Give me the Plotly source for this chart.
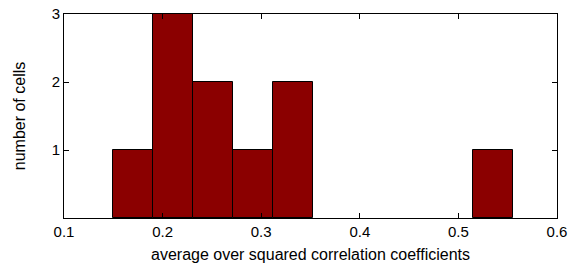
import plotly.graph_objects as go

bin_centers = [0.1697, 0.2103, 0.2509, 0.2915, 0.3321, 0.3727, 0.4133, 0.4539, 0.4945, 0.5351]
counts = [1, 3, 2, 1, 2, 0, 0, 0, 0, 1]
bin_width = 0.0406
x_ticks = [0.1, 0.2, 0.3, 0.4, 0.5, 0.6]
y_ticks = [1, 2, 3]

fig = go.Figure(go.Bar(
    x=bin_centers, y=counts, width=bin_width,
    marker=dict(color="#8B0000",
                line=dict(color="#000000", width=[1 if c > 0 else 0 for c in counts])),
))

tick_font = dict(family="Liberation Sans, Arial, sans-serif", size=15, color="#000000")
title_font = dict(family="Liberation Sans, Arial, sans-serif", size=16, color="#000000")
fig.update_layout(
    width=568, height=263,
    margin=dict(l=64, r=11, t=14, b=45),
    paper_bgcolor="white", plot_bgcolor="white",
    font=tick_font, showlegend=False, bargap=0,
    xaxis=dict(
        range=[0.1, 0.6], tickvals=x_ticks, ticktext=[str(v) for v in x_ticks],
        ticks="inside", ticklen=5, tickcolor="black", showline=True, linecolor="black",
        linewidth=1, mirror="ticks", showgrid=False, zeroline=False, automargin=False,
        tickfont=tick_font, ticklabeloverflow="allow",
        title=dict(text="average over squared correlation coefficients", standoff=9, font=title_font),
    ),
    yaxis=dict(
        range=[0, 3], tickvals=y_ticks, ticktext=[str(v) for v in y_ticks],
        ticks="inside", ticklen=5, tickcolor="black", showline=True, linecolor="black",
        linewidth=1, mirror="ticks", showgrid=False, zeroline=False, automargin=False,
        tickfont=tick_font, ticklabeloverflow="allow",
        title=dict(text="number of cells", standoff=22, font=title_font),
    ),
)
fig.write_html("out.html", post_script="document.body.style.margin='0px';",
               config={"displayModeBar": False})
